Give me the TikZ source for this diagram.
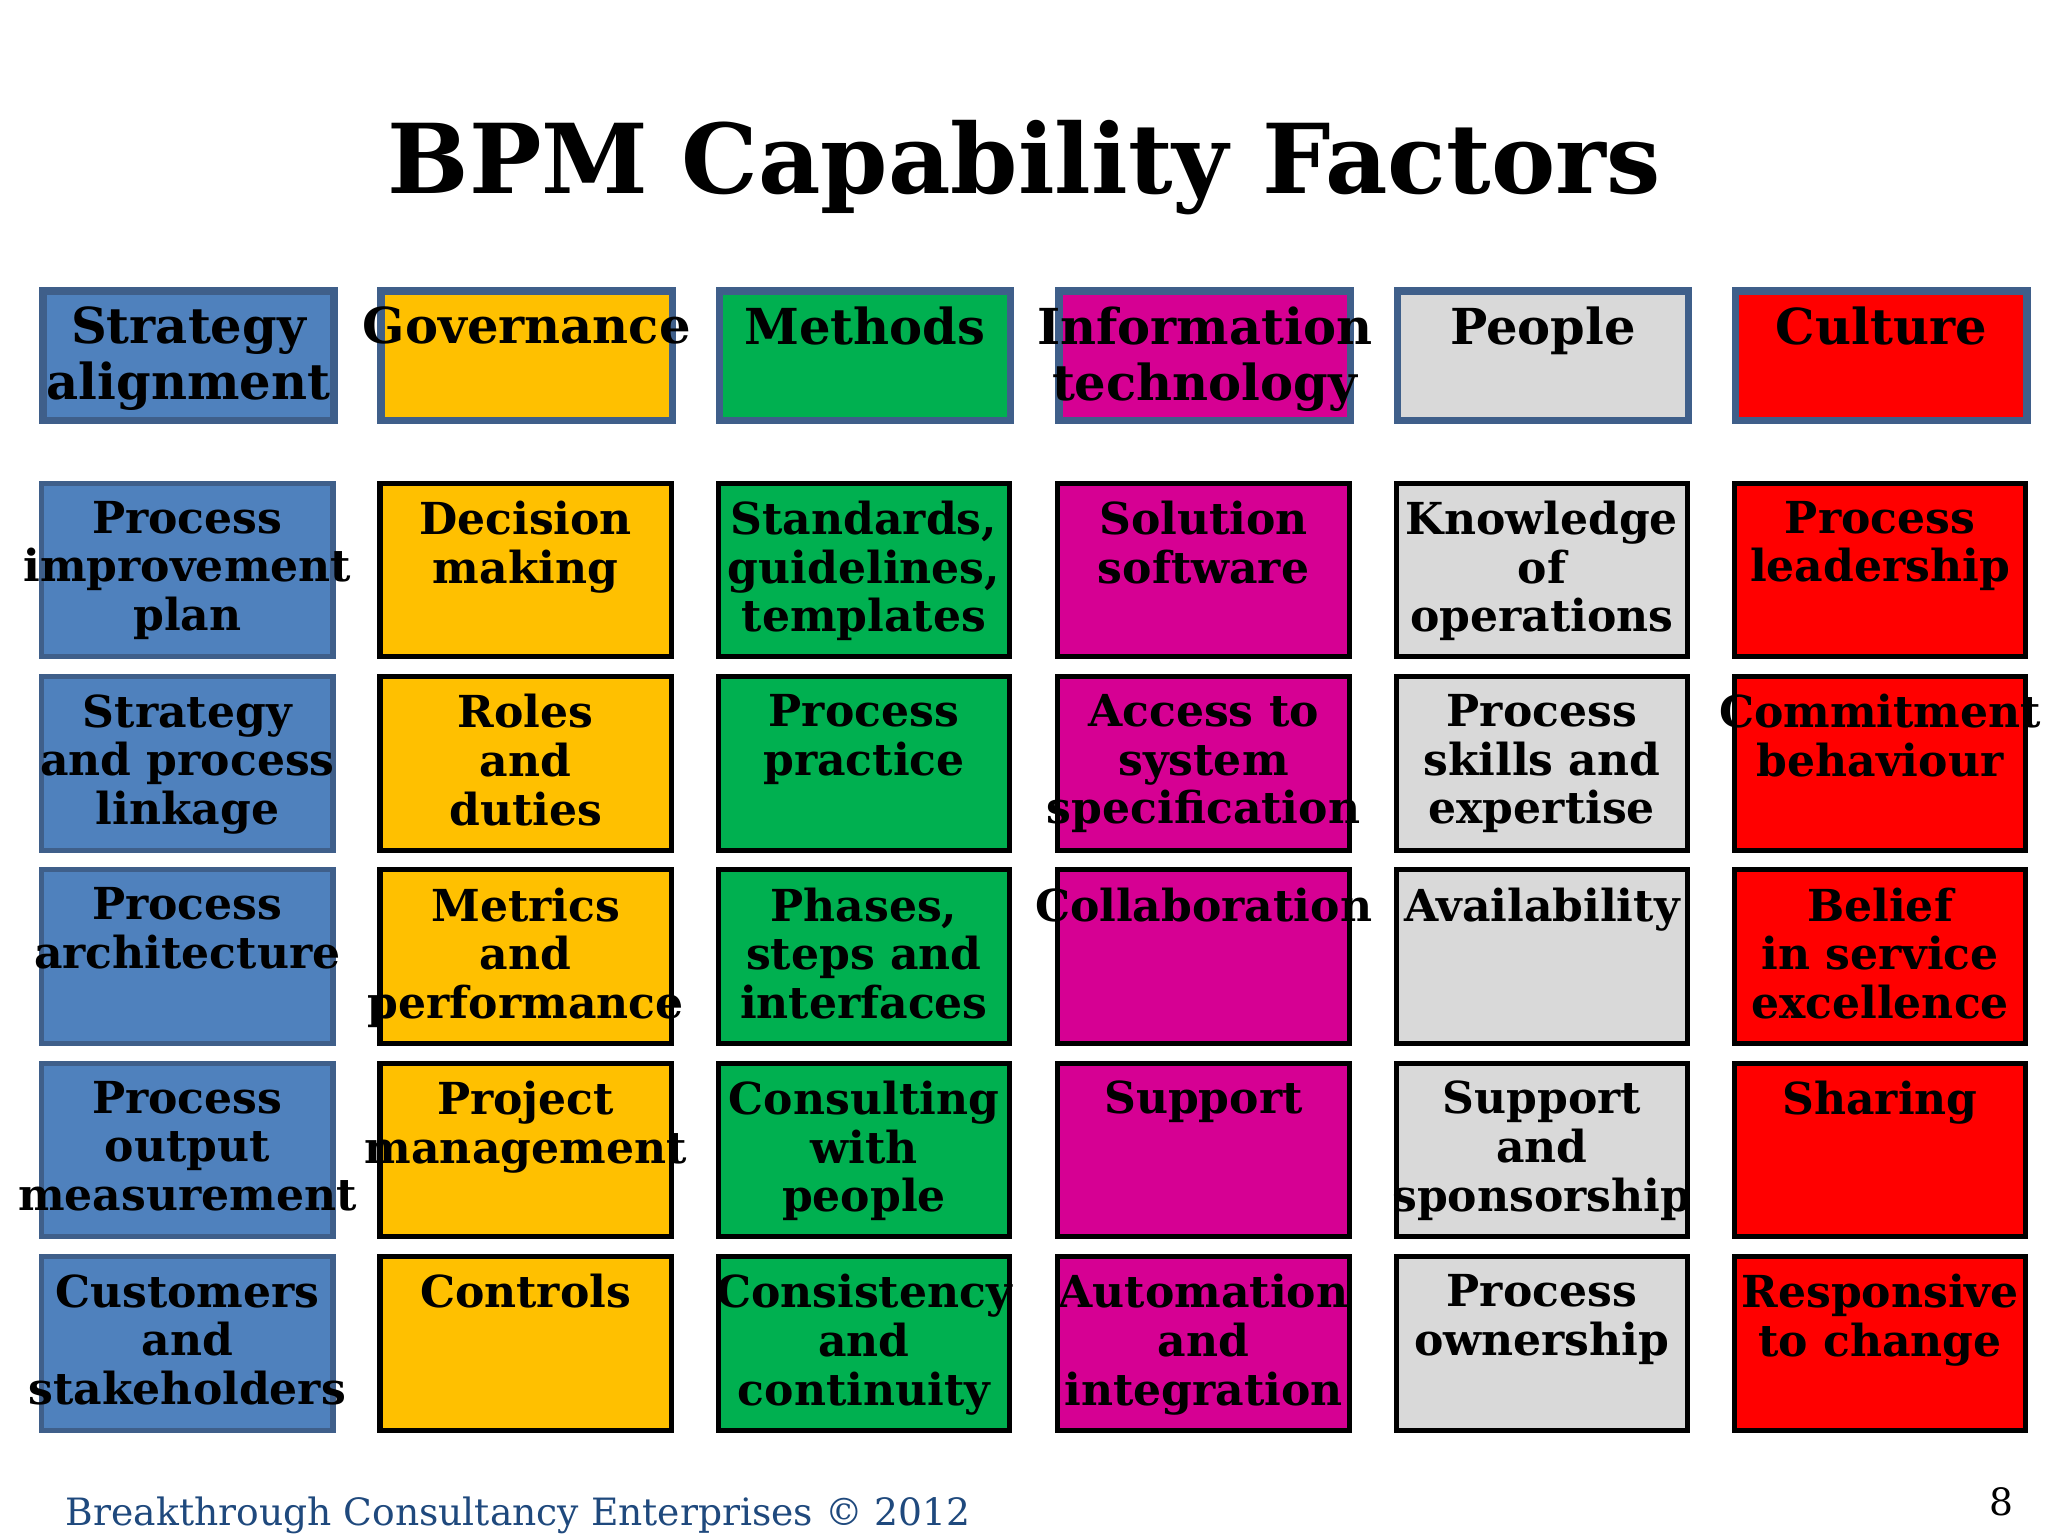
\documentclass[tikz,border=0pt]{standalone}
\usepackage{fontspec}
\setmainfont{DejaVu Serif}
\begin{document}
\begin{tikzpicture}[x=1cm,y=1cm,
  hdr/.style={draw=hdrb,line width=1.6pt,minimum width=2.23cm,minimum height=0.99cm,anchor=north west,inner sep=0pt},
  cell/.style={draw=black,line width=1.1pt,minimum width=2.23cm,minimum height=1.33cm,anchor=north west,inner sep=0pt},
  lab/.style={anchor=north,align=center,font=\bfseries\fontsize{9.6}{10.6}\selectfont,inner sep=0pt},
  hlab/.style={anchor=north,align=center,font=\bfseries\fontsize{10.8}{12.2}\selectfont,inner sep=0pt}]
\definecolor{hdrb}{HTML}{3F5F8A}
\definecolor{cA}{HTML}{4F81BD}
\definecolor{cB}{HTML}{FFC000}
\definecolor{cC}{HTML}{00B050}
\definecolor{cD}{HTML}{D60093}
\definecolor{cE}{HTML}{D9D9D9}
\definecolor{cF}{HTML}{FF0000}
\definecolor{foot}{HTML}{1F497D}
\useasboundingbox (0,0) rectangle (15.68,-11.76);
\node[font=\bfseries\fontsize{21}{24}\selectfont] (title) at (7.84,-1.28) {BPM Capability Factors};
% headers
\foreach \c/\x/\col/\t in {1/0.30/cA/{Strategy\\alignment},2/2.89/cB/{Governance},3/5.48/cC/{Methods},4/8.08/cD/{Information\\technology},5/10.67/cE/{People},6/13.26/cF/{Culture}}{
  \node[hdr,fill=\col] (h\c) at (\x,-2.20) {};
  \node[hlab] (ht\c) at ([yshift=-0.14cm]h\c.north) {\t};
}
% cells
\foreach \c/\x/\col/\bc in {1/0.30/cA/hdrb,2/2.89/cB/black,3/5.48/cC/black,4/8.08/cD/black,5/10.67/cE/black,6/13.26/cF/black}{
  \foreach \r/\y in {1/-3.68,2/-5.16,3/-6.64,4/-8.12,5/-9.60}{
    \node[cell,fill=\col,draw=\bc] (b\c\r) at (\x,\y) {};
  }
}
\foreach \n/\t in {
 b11/{Process\\improvement\\plan}, b12/{Strategy\\and process\\linkage}, b13/{Process\\architecture}, b14/{Process\\output\\measurement}, b15/{Customers\\and\\stakeholders},
 b21/{Decision\\making}, b22/{Roles\\and\\duties}, b23/{Metrics\\and\\performance}, b24/{Project\\management}, b25/{Controls},
 b31/{Standards,\\guidelines,\\templates}, b32/{Process\\practice}, b33/{Phases,\\steps and\\interfaces}, b34/{Consulting\\with\\people}, b35/{Consistency\\and\\continuity},
 b41/{Solution\\software}, b42/{Access to\\system\\specification}, b43/{Collaboration}, b44/{Support}, b45/{Automation\\and\\integration},
 b51/{Knowledge\\of\\operations}, b52/{Process\\skills and\\expertise}, b53/{Availability}, b54/{Support\\and\\sponsorship}, b55/{Process\\ownership},
 b61/{Process\\leadership}, b62/{Commitment\\behaviour}, b63/{Belief\\in service\\excellence}, b64/{Sharing}, b65/{Responsive\\to change}}{
  \node[lab] (t\n) at ([yshift=-0.15cm]\n.north) {\t};
}
\node[anchor=base west,text=foot,font=\fontsize{8.2}{10}\selectfont] (ft) at (0.38,-11.68) {Breakthrough Consultancy Enterprises © 2012};
\node[anchor=base east,font=\fontsize{8.2}{10}\selectfont] (pg) at (15.54,-11.60) {8};
\end{tikzpicture}
\end{document}
